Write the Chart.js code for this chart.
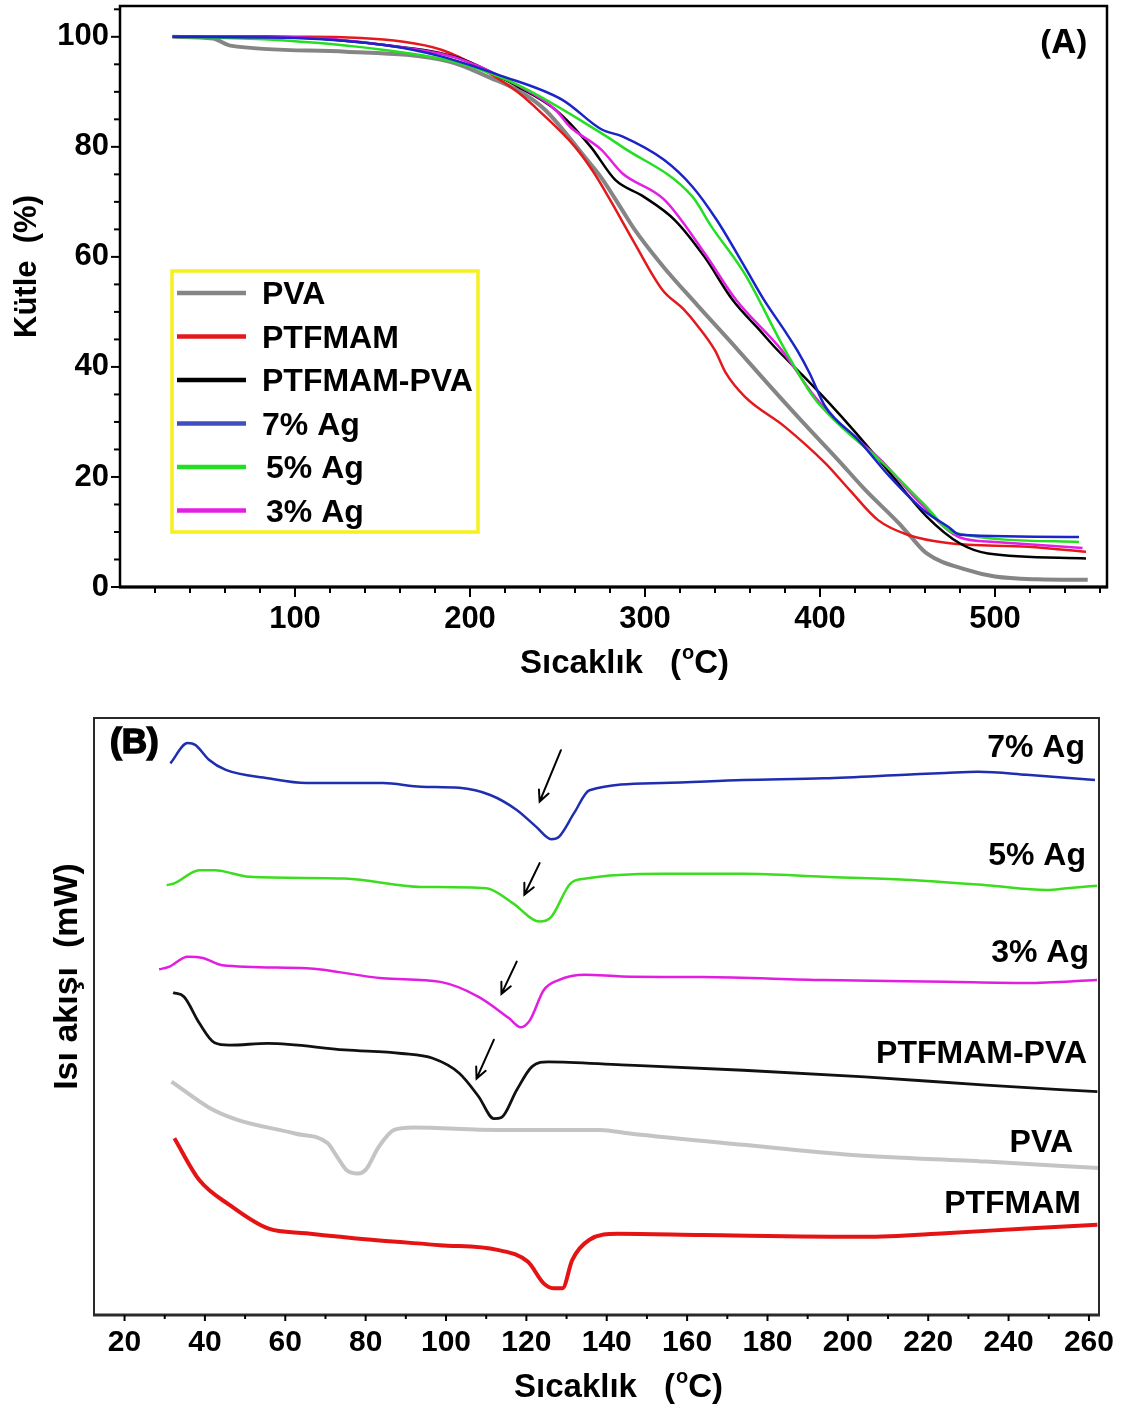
<!DOCTYPE html>
<html><head><meta charset="utf-8">
<script src="https://cdn.jsdelivr.net/npm/chart.js@4.4.1/dist/chart.umd.min.js"></script>
<style>html,body{margin:0;padding:0;background:#fff;width:1135px;height:1414px;overflow:hidden}canvas{position:absolute;left:0}</style>
</head><body>
<canvas id="tga" width="1135" height="700" style="top:0"></canvas>
<canvas id="dsc" width="1135" height="714" style="top:700px"></canvas>
<script>
// ---------- DATA ----------
const seriesNames = ['PVA', 'PTFMAM', 'PTFMAM-PVA', '7% Ag', '5% Ag', '3% Ag'];

// (A) TGA: temperature (°C) / mass (%)
const tgaPvaT = [30, 53, 63, 129, 188, 212, 230, 243, 267, 275, 287, 294, 310, 330, 350, 370, 390, 410, 426, 445, 452, 461, 484, 500, 524, 553];
const tgaPvaM = [100, 99.7, 98.4, 97.3, 95.5, 92.5, 89.8, 86.7, 77.6, 74.4, 68.5, 65, 58.4, 51.2, 44.2, 37, 30, 23.2, 17.6, 11.6, 9.1, 6.1, 3.1, 1.9, 1.4, 1.3];
const tgaPtfT = [30, 107, 162, 184, 206, 227, 241, 260, 271, 280, 294, 310, 322, 330, 340, 346, 357, 380, 403, 417, 433, 450, 473, 519, 552];
const tgaPtfM = [100, 100, 99.1, 97.6, 94.3, 90, 86.1, 80, 75.2, 70.4, 62.5, 54, 50.5, 47.5, 43, 39, 34.6, 29.1, 22.5, 17.6, 12.2, 9.5, 8, 7.3, 6.4];
const tgaBlendT = [30, 85, 151, 194, 227, 249, 269, 283, 299, 317, 334, 350, 366, 375, 390, 405, 420, 440, 461, 480, 496, 552];
const tgaBlendM = [100, 100, 98.5, 96.1, 91, 86.7, 80, 74, 71, 66.7, 60, 52.2, 46.5, 43.3, 38.5, 33.5, 28.2, 20.7, 12.8, 7.9, 6.1, 5.2];
const tgaAg7T = [30, 100, 151, 184, 217, 253, 275, 287, 311, 327, 341, 357, 368, 380, 387, 394, 403, 422, 440, 459, 473, 480, 548];
const tgaAg7M = [100, 99.8, 98.5, 96.4, 93, 88.5, 83.2, 81.9, 77.6, 72.8, 66.7, 58.2, 52.2, 46.5, 43, 38.9, 32.8, 26.7, 20, 14, 11, 9.5, 9.1];
const tgaAg5T = [30, 85, 151, 194, 227, 275, 287, 327, 338, 357, 380, 396, 410, 436, 459, 477, 548];
const tgaAg5M = [100, 99.5, 97.6, 95.2, 91.3, 82.5, 80, 71, 65.5, 56.9, 43.1, 34.6, 29.8, 22.5, 15.2, 9.8, 8.2];
const tgaAg3T = [30, 100, 151, 194, 227, 249, 257, 275, 287, 311, 334, 352, 378, 396, 410, 435, 458, 480, 500, 550];
const tgaAg3M = [100, 99.9, 98.5, 96, 91.2, 86.7, 83.7, 79.5, 75.2, 70.4, 60.7, 52.2, 43.1, 35, 30, 23, 15, 9, 8.2, 7.1];

const tgaXTicks = [20, 40, 60, 80, 100, 120, 140, 160, 180, 200, 220, 240, 260, 280, 300, 320, 340, 360, 380, 400, 420, 440, 460, 480, 500, 520, 540, 560];
const tgaXLabels = [100, 200, 300, 400, 500];
const tgaYTicks = [0, 5, 10, 15, 20, 25, 30, 35, 40, 45, 50, 55, 60, 65, 70, 75, 80, 85, 90, 95, 100, 105];
const tgaYLabels = [0, 20, 40, 60, 80, 100];

// (B) DSC: temperature (°C) / heat flow (arbitrary, stacked)
const dscAg7T = [31.4, 35.7, 37.6, 41, 45.2, 55.7, 65.2, 74.8, 84.3, 93.8, 103.3, 111, 117.6, 122.4, 126.2, 128.1, 131.9, 135.7, 153.8, 174, 194, 214.3, 224.3, 232.4, 244.5, 261.5];
const dscAg7V = [92.4, 95.8, 95.5, 93.0, 91.3, 89.9, 89.1, 89.1, 89.1, 88.5, 88.3, 87.1, 84.6, 81.8, 79.7, 80.1, 84.1, 87.9, 89.1, 89.6, 89.9, 90.5, 90.8, 91.0, 90.5, 89.6];
const dscAg5T = [30.5, 32.4, 38.6, 42.4, 51, 74.8, 93.8, 110, 116.6, 123.3, 126.2, 131, 134.8, 153.8, 174, 194, 214.3, 234.4, 249.5, 254.6, 262];
const dscAg5V = [72.0, 72.3, 74.5, 74.5, 73.4, 73.1, 71.7, 71.5, 69.0, 65.9, 66.7, 72.3, 73.1, 73.9, 73.9, 73.4, 72.9, 72.0, 71.2, 71.5, 71.9];
const dscAg3T = [28.6, 31, 35.7, 39.5, 44.3, 65.2, 84.3, 98.6, 108.1, 115.7, 118.6, 120.9, 124.3, 128, 134.7, 143.7, 163.9, 194, 224.3, 244.5, 262];
const dscAg3V = [57.9, 58.3, 60.0, 59.8, 58.6, 58.1, 56.4, 55.8, 53.3, 49.7, 48.2, 49.4, 54.4, 56.1, 57.0, 56.7, 56.6, 56.1, 55.8, 55.6, 56.1];
const dscBlendT = [32.1, 34.8, 38.6, 42.4, 46.2, 55.7, 74.8, 89, 96.7, 103.3, 108.1, 111.9, 113.8, 117.6, 121.4, 125.4, 143.7, 174, 204.2, 234.4, 262.1];
const dscBlendV = [54.0, 53.3, 48.9, 45.6, 45.2, 45.5, 44.4, 43.8, 43.0, 40.5, 36.6, 32.9, 33.1, 37.7, 41.6, 42.4, 41.9, 41.0, 39.9, 38.5, 37.4];
const dscPvaT = [31.7, 41.4, 48.1, 62.4, 70.5, 72.9, 75.2, 78.1, 80, 83.3, 87.1, 91.9, 112.8, 138.4, 145.7, 174, 201.1, 234.4, 262.6];
const dscPvaV = [39.1, 34.6, 32.7, 30.4, 28.8, 26.5, 24.3, 23.7, 24.3, 28.2, 31.0, 31.4, 31.0, 31.0, 30.4, 28.5, 26.8, 25.7, 24.6];
const dscPtfT = [32.4, 38.6, 46.2, 55.7, 65.2, 81.4, 98.5, 112.8, 120.4, 124.3, 126.7, 129, 131.4, 135.7, 142.7, 163.9, 204.2, 224.3, 244.5, 262.1];
const dscPtfV = [29.6, 22.6, 18.4, 14.5, 13.7, 12.6, 11.7, 10.9, 8.9, 5.3, 4.5, 4.5, 9.2, 12.6, 13.6, 13.4, 13.1, 13.7, 14.5, 15.1];

const dscXTicks = [20, 30, 40, 50, 60, 70, 80, 90, 100, 110, 120, 130, 140, 150, 160, 170, 180, 190, 200, 210, 220, 230, 240, 250, 260];
const dscXLabels = [20, 40, 60, 80, 100, 120, 140, 160, 180, 200, 220, 240, 260];

// melting-peak arrows (tail -> head), in data units
const arrowTailT = [128.6, 123.3, 117.6, 111.9];
const arrowTailV = [94.6, 75.7, 59.2, 46.1];
const arrowHeadT = [123.3, 119.5, 113.8, 107.6];
const arrowHeadV = [86.0, 70.4, 53.8, 39.6];

// ---------- STYLE ----------
const FONT = "'Liberation Sans', Arial, Helvetica, sans-serif";
const tgaColors = ['#858585', '#e3191c', '#000000', '#1b24c6', '#22df22', '#e41fe4'];
const tgaWidths = [4, 2.5, 2.5, 2.5, 2.5, 2.5];
const legendColors = ['#858585', '#e3191c', '#000000', '#3f4fc0', '#22df22', '#e41fe4'];
const dscColors = ['#c4c4c4', '#e41414', '#111111', '#1f2db0', '#3cdc1e', '#e11de1'];
const dscWidths = [4, 4, 2.8, 2.5, 2.5, 2.5];

const pts = (T, V) => T.map((t, i) => ({ x: t, y: V[i] }));

const tgaSets = [[tgaPvaT, tgaPvaM], [tgaPtfT, tgaPtfM], [tgaBlendT, tgaBlendM], [tgaAg7T, tgaAg7M], [tgaAg5T, tgaAg5M], [tgaAg3T, tgaAg3M]];
const dscSets = [[dscPvaT, dscPvaV], [dscPtfT, dscPtfV], [dscBlendT, dscBlendV], [dscAg7T, dscAg7V], [dscAg5T, dscAg5V], [dscAg3T, dscAg3V]];

// ---------- PLUGINS ----------
const framePlugin = {
  id: 'frame',
  afterDraw(chart, a, o) {
    const { ctx, chartArea: c } = chart;
    ctx.save();
    ctx.strokeStyle = o.color; ctx.lineWidth = o.width;
    ctx.strokeRect(c.left, c.top, c.right - c.left, c.bottom - c.top);
    ctx.lineWidth = o.bottomWidth;
    ctx.beginPath(); ctx.moveTo(c.left - 1, c.bottom); ctx.lineTo(c.right + 1, c.bottom); ctx.stroke();
    // tick marks
    ctx.strokeStyle = '#000';
    for (const id of ['x', 'y']) {
      const cfg = o[id]; if (!cfg) continue;
      const s = chart.scales[id];
      ctx.lineWidth = cfg.width;
      for (const t of s.ticks) {
        const v = t.value;
        const len = cfg.labels.includes(v) ? cfg.major : cfg.minor;
        const p = s.getPixelForValue(v);
        ctx.beginPath();
        if (id === 'x') { ctx.moveTo(p, c.bottom); ctx.lineTo(p, c.bottom + len); }
        else { ctx.moveTo(c.left, p); ctx.lineTo(c.left - len, p); }
        ctx.stroke();
      }
    }
    ctx.restore();
  }
};

function drawTempTitle(ctx, x, y, size) {
  ctx.font = `bold ${size}px ${FONT}`;
  ctx.textAlign = 'left'; ctx.textBaseline = 'alphabetic';
  ctx.fillText('Sıcaklık', x, y);
  let px = x + ctx.measureText('Sıcaklık').width + 27;
  ctx.fillText('(', px, y);
  px += ctx.measureText('(').width + 1;
  ctx.font = `bold ${Math.round(size * 0.62)}px ${FONT}`;
  ctx.fillText('o', px, y - size * 0.42);
  px += ctx.measureText('o').width;
  ctx.font = `bold ${size}px ${FONT}`;
  ctx.fillText('C)', px, y);
}

const tgaDeco = {
  id: 'tgaDeco',
  afterDraw(chart) {
    const ctx = chart.ctx;
    ctx.save();
    ctx.fillStyle = '#000';
    // panel tag
    ctx.font = "bold 34px 'Open Sans', sans-serif";
    ctx.textAlign = 'right'; ctx.textBaseline = 'alphabetic';
    ctx.fillText('(A)', 1087, 53);
    // axis titles
    drawTempTitle(ctx, 520, 673, 33);
    ctx.save();
    ctx.translate(36, 266.5); ctx.rotate(-Math.PI / 2);
    ctx.font = `bold 31px ${FONT}`; ctx.textAlign = 'center';
    ctx.fillText('Kütle  (%)', 0, 0);
    ctx.restore();
    // legend box
    ctx.strokeStyle = '#f5f01e'; ctx.lineWidth = 3.5;
    ctx.strokeRect(172, 271, 306, 261);
    ctx.font = `bold 32px ${FONT}`; ctx.textAlign = 'left';
    seriesNames.forEach((n, i) => {
      const by = 304 + i * 43.5;
      ctx.strokeStyle = legendColors[i]; ctx.lineWidth = 4.5;
      ctx.beginPath(); ctx.moveTo(177, by - 11); ctx.lineTo(246, by - 11); ctx.stroke();
      ctx.fillStyle = '#000';
      ctx.fillText(n, i >= 4 ? 266 : 262, by);
    });
    ctx.restore();
  }
};

const dscLabelOrder = [3, 4, 5, 2, 0, 1];
const dscLabelRight = [1085, 1086, 1089, 1087, 1073, 1081];
const dscLabelBase = [57, 165, 262, 363, 452, 513];

const dscDeco = {
  id: 'dscDeco',
  afterDraw(chart) {
    const ctx = chart.ctx;
    const xs = chart.scales.x, ys = chart.scales.y;
    ctx.save();
    ctx.fillStyle = '#000'; ctx.strokeStyle = '#000';
    ctx.font = `bold 35px ${FONT}`;
    ctx.textAlign = 'left'; ctx.textBaseline = 'alphabetic';
    ctx.lineWidth = 1.6;
    ctx.fillText('(B)', 110, 53);
    ctx.strokeText('(B)', 110, 53);
    // curve labels
    ctx.font = `bold 32px ${FONT}`; ctx.textAlign = 'right';
    dscLabelOrder.forEach((si, k) => ctx.fillText(seriesNames[si], dscLabelRight[k], dscLabelBase[k]));
    // axis titles
    drawTempTitle(ctx, 514, 697, 33);
    ctx.save();
    ctx.translate(77, 276.5); ctx.rotate(-Math.PI / 2);
    ctx.font = `bold 34px ${FONT}`; ctx.textAlign = 'center';
    ctx.fillText('Isı akışı  (mW)', 0, 0);
    ctx.restore();
    // arrows
    ctx.strokeStyle = '#000'; ctx.lineWidth = 2; ctx.lineCap = 'round';
    for (let i = 0; i < arrowTailT.length; i++) {
      const x1 = xs.getPixelForValue(arrowTailT[i]), y1 = ys.getPixelForValue(arrowTailV[i]);
      const x2 = xs.getPixelForValue(arrowHeadT[i]), y2 = ys.getPixelForValue(arrowHeadV[i]);
      const ang = Math.atan2(y2 - y1, x2 - x1), L = 12, sp = 0.45;
      ctx.beginPath(); ctx.moveTo(x1, y1); ctx.lineTo(x2, y2);
      ctx.moveTo(x2 - L * Math.cos(ang - sp), y2 - L * Math.sin(ang - sp)); ctx.lineTo(x2, y2);
      ctx.lineTo(x2 - L * Math.cos(ang + sp), y2 - L * Math.sin(ang + sp));
      ctx.stroke();
    }
    ctx.restore();
  }
};

// ---------- CHARTS ----------
const tickFont = (s) => ({ family: FONT, size: s, weight: 'bold' });
const fixX = (h) => (s) => { s.height = h; s.paddingLeft = 0; s.paddingRight = 0; s.paddingTop = 0; s.paddingBottom = 0; };
const fixY = (w) => (s) => { s.width = w; s.paddingTop = 0; s.paddingBottom = 0; s.paddingLeft = 0; s.paddingRight = 0; };

new Chart(document.getElementById('tga'), {
  type: 'line',
  data: {
    datasets: tgaSets.map(([T, M], i) => ({
      label: seriesNames[i], data: pts(T, M), borderColor: tgaColors[i], borderWidth: tgaWidths[i],
      pointRadius: 0, fill: false, cubicInterpolationMode: 'monotone', order: [6, 5, 4, 1, 2, 3][i]
    }))
  },
  options: {
    responsive: false, animation: false, devicePixelRatio: 1,
    layout: { padding: { left: 0, top: 6, right: 28, bottom: 0 } },
    plugins: {
      legend: { display: false }, tooltip: { enabled: false },
      frame: { color: '#000', width: 2.5, bottomWidth: 2.8,
        x: { labels: tgaXLabels, major: 10, minor: 6, width: 2 },
        y: { labels: tgaYLabels, major: 9, minor: 6, width: 2 } }
    },
    scales: {
      x: {
        type: 'linear', min: 0, max: 564,
        afterFit: fixX(113),
        afterBuildTicks: (s) => { s.ticks = tgaXTicks.map(v => ({ value: v })); },
        grid: { display: false, drawTicks: false }, border: { display: false },
        ticks: { autoSkip: false, maxRotation: 0, padding: 14, color: '#000', font: tickFont(31),
          callback: (v) => tgaXLabels.includes(v) ? String(v) : '' }
      },
      y: {
        type: 'linear', min: 0, max: 105.6,
        afterFit: fixY(120),
        afterBuildTicks: (s) => { s.ticks = tgaYTicks.map(v => ({ value: v })); },
        grid: { display: false, drawTicks: false }, border: { display: false },
        ticks: { autoSkip: false, padding: 11, color: '#000', font: tickFont(31),
          callback: (v) => tgaYLabels.includes(v) ? String(v) : '' }
      }
    }
  },
  plugins: [framePlugin, tgaDeco]
});

new Chart(document.getElementById('dsc'), {
  type: 'line',
  data: {
    datasets: dscSets.map(([T, V], i) => ({
      label: seriesNames[i], data: pts(T, V), borderColor: dscColors[i], borderWidth: dscWidths[i],
      pointRadius: 0, fill: false, cubicInterpolationMode: 'monotone'
    }))
  },
  options: {
    responsive: false, animation: false, devicePixelRatio: 1,
    layout: { padding: { left: 0, top: 18, right: 36, bottom: 0 } },
    plugins: {
      legend: { display: false }, tooltip: { enabled: false },
      frame: { color: '#2a2a2a', width: 2, bottomWidth: 3,
        x: { labels: dscXLabels, major: 6, minor: 4, width: 2 } }
    },
    scales: {
      x: {
        type: 'linear', min: 12.4, max: 262.5,
        afterFit: fixX(99),
        afterBuildTicks: (s) => { s.ticks = dscXTicks.map(v => ({ value: v })); },
        grid: { display: false, drawTicks: false }, border: { display: false },
        ticks: { autoSkip: false, maxRotation: 0, padding: 10, color: '#000', font: tickFont(30),
          callback: (v) => dscXLabels.includes(v) ? String(v) : '' }
      },
      y: {
        type: 'linear', min: 0, max: 100,
        afterFit: fixY(94),
        grid: { display: false, drawTicks: false }, border: { display: false },
        ticks: { display: false }
      }
    }
  },
  plugins: [framePlugin, dscDeco]
});
</script>
</body></html>
